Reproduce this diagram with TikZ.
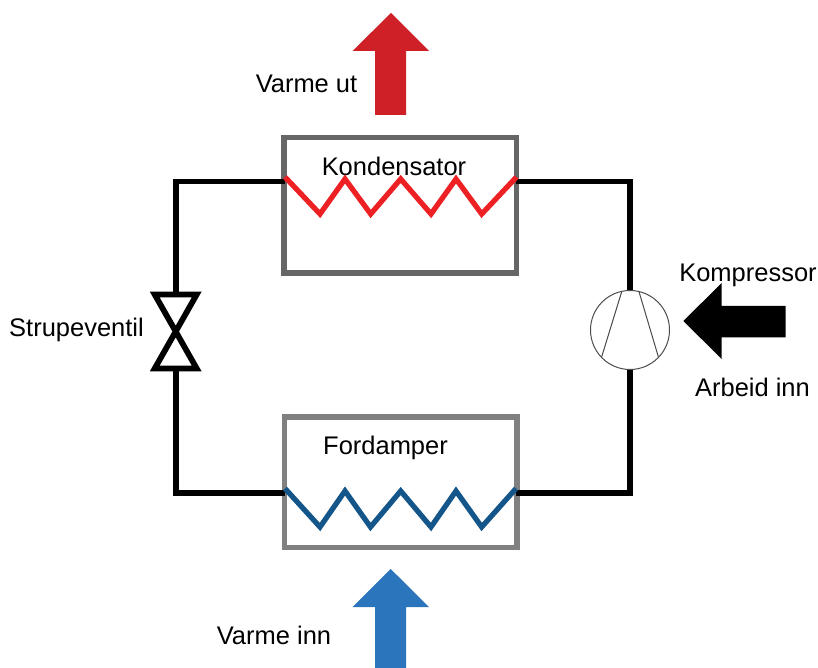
\documentclass[tikz,border=0pt]{standalone}
\usepackage{fontspec}
\setmainfont{Liberation Sans}
\usepackage{xcolor}
\definecolor{kondgra}{HTML}{666666}
\definecolor{fordgra}{HTML}{808080}
\definecolor{varmrod}{HTML}{ED2024}
\definecolor{pilrod}{HTML}{CF2027}
\definecolor{kaldbla}{HTML}{14568A}
\definecolor{pilbla}{HTML}{2A75BC}
\tikzset{
  kasse/.style={draw, line width=1.1mm, inner sep=0pt, outer sep=0pt, minimum width=46.5mm},
  tekst/.style={font=\fontsize{14.5}{16}\selectfont, inner sep=0pt},
  ror/.style={draw=black, line width=1.15mm},
  spiral/.style={line width=1.05mm, line join=miter},
}
\begin{document}
\begin{tikzpicture}[x=0.2mm,y=-0.2mm]
\useasboundingbox (0,0) rectangle (818,668);

% Kondensator
\node[kasse,draw=kondgra,minimum height=27.1mm] (kondensator) at (400.3,205.2) {};
\node[tekst] (kondtekst) at (394,166) {Kondensator};

% Fordamper
\node[kasse,draw=fordgra,minimum height=26.1mm] (fordamper) at (400.5,482.2) {};
\node[tekst] (fordtekst) at (385.5,448) {Fordamper};

% Tilkoblinger
\coordinate (kondV) at (285,181.5);
\coordinate (kondH) at (516,181.5);
\coordinate (fordV) at (285,493);
\coordinate (fordH) at (516,493);
\coordinate (ventilTopp) at (175.7,296);
\coordinate (ventilBunn) at (175.7,367);

% Kompressor
\node[circle,draw=black!70,fill=white,line width=0.2mm,minimum size=15.8mm,inner sep=0pt,outer sep=0pt] (kompressor) at (630,330) {};
\draw[black!70,line width=0.2mm] (621.7,291.7) -- (601.7,356.7);
\draw[black!70,line width=0.2mm] (639,291.7) -- (658.3,356.7);

% Rør
\draw[ror] (kondV) -| (ventilTopp);
\draw[ror] (fordV) -| (ventilBunn);
\draw[ror] (kondH) -| (kompressor.north);
\draw[ror] (fordH) -| (kompressor.south);

% Strupeventil
\draw[ror,line join=miter] (154.7,294.5) -- (196.7,294.5) -- (154.7,368.5) -- (196.7,368.5) -- cycle;
\node[tekst] (strupetekst) at (76.5,330) {Strupeventil};

% Varmeveksler rød
\draw[spiral,varmrod] (285,177) -- (320,214) -- (345,179) -- (370.7,214) -- (400.7,179) -- (431,214) -- (456,179) -- (481.7,214) -- (516.5,177);

% Varmeveksler blå
\draw[spiral,kaldbla] (285,488.5) -- (320,527) -- (345,491) -- (370.5,527) -- (400.7,491) -- (431,527) -- (456,491) -- (481.7,527) -- (516,488.5);

% Pil varme ut
\fill[pilrod] (391,13) -- (429,51) -- (406,51) -- (406,115) -- (375,115) -- (375,51) -- (352.5,51) -- cycle;
\node[tekst] (uttekst) at (306.5,84) {Varme ut};

% Pil varme inn
\fill[pilbla] (390.7,569) -- (429,607) -- (406,607) -- (406,668) -- (375,668) -- (375,607) -- (352.5,607) -- cycle;
\node[tekst] (inntekst) at (274,635) {Varme inn};

% Pil arbeid
\fill[black] (683.3,321) -- (721.7,283) -- (721.7,306) -- (785.7,306) -- (785.7,337.3) -- (721.7,337.3) -- (721.7,359) -- cycle;
\node[tekst] (komptekst) at (748,275) {Kompressor};
\node[tekst] (arbeidtekst) at (752.5,387) {Arbeid inn};

\end{tikzpicture}
\end{document}
